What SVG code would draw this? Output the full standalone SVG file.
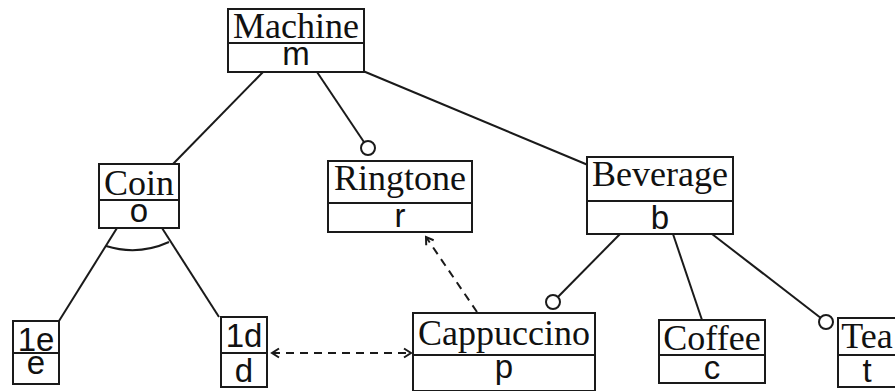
<svg xmlns="http://www.w3.org/2000/svg" width="895" height="391" viewBox="0 0 895 391">
<style>
.box{fill:#fff;stroke:#1a1a1a;stroke-width:2}
.div{stroke:#1a1a1a;stroke-width:2}
.name{font-family:"Liberation Serif","Times New Roman",serif;font-size:36px;fill:#111;text-anchor:middle}
.var{font-family:"Liberation Sans",Arial,sans-serif;font-size:33px;fill:#111;text-anchor:middle}
.edge{stroke:#1a1a1a;stroke-width:2;fill:none}
.dash{stroke:#1a1a1a;stroke-width:2;fill:none;stroke-dasharray:8 6}
.opt{fill:#fff;stroke:#1a1a1a;stroke-width:2}
</style>
<defs>
<marker id="chev" viewBox="0 0 12 12" refX="10" refY="6" markerWidth="12" markerHeight="12" markerUnits="userSpaceOnUse" orient="auto-start-reverse">
<path d="M3,1.5 L10,6 L3,10.5" fill="none" stroke="#1a1a1a" stroke-width="2"/>
</marker>
</defs>
<rect width="895" height="391" fill="#fff"/>
<g id="connectors">
<line class="edge" x1="263" y1="72" x2="173" y2="164"/>
<line class="edge" x1="317" y1="72" x2="364.1" y2="142.2"/>
<circle class="opt" cx="368" cy="148" r="7"/>
<line class="edge" x1="363" y1="71" x2="588" y2="165"/>
<line class="edge" x1="117" y1="228" x2="59" y2="321"/>
<line class="edge" x1="162" y1="228" x2="219" y2="317"/>
<path class="edge" d="M106,246 Q138,256 169,242"/>
<line class="edge" x1="620" y1="234" x2="557.9" y2="297"/>
<circle class="opt" cx="553" cy="302" r="7"/>
<line class="edge" x1="673" y1="234" x2="702" y2="320"/>
<line class="edge" x1="712" y1="234" x2="820.5" y2="317.7"/>
<circle class="opt" cx="826" cy="322" r="7"/>
<line class="dash" x1="477" y1="312" x2="426" y2="237" marker-end="url(#chev)"/>
<line class="dash" x1="272" y1="353" x2="411" y2="353" marker-start="url(#chev)" marker-end="url(#chev)"/>
</g>
<g id="machine">
<rect class="box" x="228" y="9" width="136" height="63"/>
<line class="div" x1="228" y1="43" x2="364" y2="43"/>
<text class="name" x="296" y="38">Machine</text>
<text class="var" x="296" y="65">m</text>
</g>
<g id="coin">
<rect class="box" x="99" y="164" width="80" height="64"/>
<line class="div" x1="99" y1="200" x2="179" y2="200"/>
<text class="name" x="139" y="195">Coin</text>
<text class="var" x="139" y="222">o</text>
</g>
<g id="ringtone">
<rect class="box" x="328" y="161" width="144" height="71"/>
<line class="div" x1="328" y1="203" x2="472" y2="203"/>
<text class="name" x="400" y="190">Ringtone</text>
<text class="var" x="400" y="227">r</text>
</g>
<g id="beverage">
<rect class="box" x="587" y="157" width="146" height="77"/>
<line class="div" x1="587" y1="201" x2="733" y2="201"/>
<text class="name" x="660" y="186">Beverage</text>
<text class="var" x="660" y="229">b</text>
</g>
<g id="n1e">
<rect class="box" x="13" y="321" width="46" height="63"/>
<line class="div" x1="13" y1="353" x2="59" y2="353"/>
<text class="var" x="36" y="351">1e</text>
<text class="var" x="36" y="374">e</text>
</g>
<g id="n1d">
<rect class="box" x="221" y="317" width="46" height="70"/>
<line class="div" x1="221" y1="353" x2="267" y2="353"/>
<text class="var" x="244" y="347">1d</text>
<text class="var" x="244" y="382">d</text>
</g>
<g id="cappuccino">
<rect class="box" x="413" y="313" width="182" height="78"/>
<line class="div" x1="413" y1="355" x2="595" y2="355"/>
<text class="name" x="504" y="345">Cappuccino</text>
<text class="var" x="504" y="378">p</text>
</g>
<g id="coffee">
<rect class="box" x="659" y="320" width="106" height="63"/>
<line class="div" x1="659" y1="355" x2="765" y2="355"/>
<text class="name" x="712" y="350">Coffee</text>
<text class="var" x="712" y="379">c</text>
</g>
<g id="tea">
<rect class="box" x="838" y="318" width="58" height="69"/>
<line class="div" x1="838" y1="355" x2="896" y2="355"/>
<text class="name" x="867" y="348">Tea</text>
<text class="var" x="867" y="382">t</text>
</g>
</svg>
